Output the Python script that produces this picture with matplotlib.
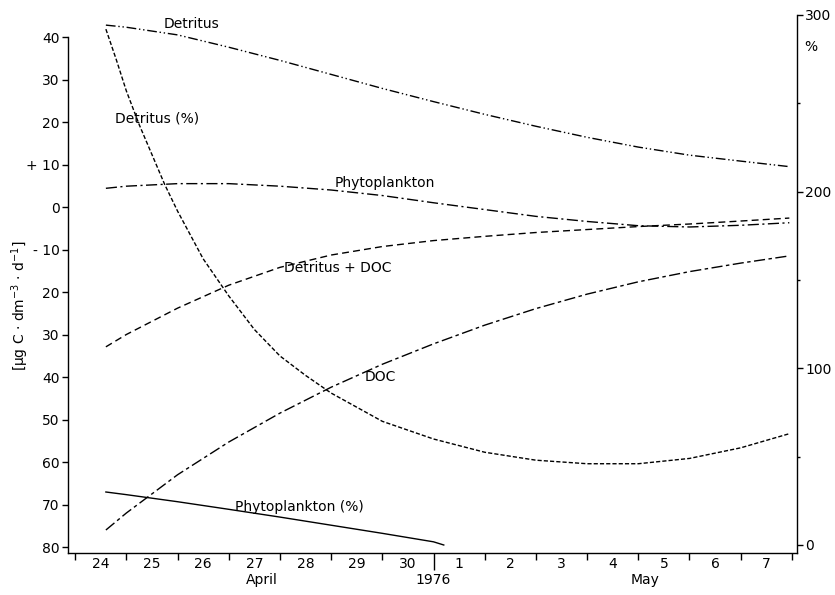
import matplotlib
matplotlib.use('Agg')
import matplotlib.pyplot as plt
from matplotlib.ticker import FixedLocator, NullFormatter

plt.rcParams['font.family'] = ['DejaVu Sans']

# days counted from 24 April 0h
days = [0.6, 1, 2, 3, 4, 5, 6, 7, 8, 9, 10, 11, 12, 13, 13.95]

# left axis, ug C dm-3 d-1 (positive = up)
detritus = [42.8, 42.3, 40.5, 37.6, 34.5, 31.2, 27.9, 24.8, 21.8, 19.0, 16.4, 14.1, 12.2, 10.8, 9.5]
phyto = [4.4, 4.9, 5.5, 5.5, 4.9, 4.0, 2.7, 1.0, -0.6, -2.2, -3.4, -4.4, -4.7, -4.3, -3.7]
det_doc = [-32.9, -30.0, -23.8, -18.4, -14.2, -11.3, -9.3, -7.9, -6.9, -6.0, -5.3, -4.6, -4.0, -3.3, -2.6]
doc = [-76.0, -72.0, -63.0, -55.3, -48.5, -42.4, -37.0, -32.2, -27.8, -23.9, -20.5, -17.6, -15.2, -13.2, -11.5]

# right axis, percent
det_pct_days = [0.6, 0.8, 1.0, 1.25, 1.5, 1.75, 2.0, 2.5, 3.0, 3.5, 4.0, 4.5, 5, 6, 7, 8, 9, 10, 11, 12, 13, 13.95]
det_pct = [292, 275, 257, 238, 221, 204, 189, 162, 141, 122, 107, 96, 86, 70, 60, 52.5, 48, 46, 46, 49, 55, 63]
phyto_pct_days = [0.6, 1, 2, 3, 4, 5, 6, 7, 7.2]
phyto_pct = [30, 28.5, 24.5, 20.2, 15.8, 11.2, 6.6, 1.8, 0]

left_ticks = [40, 30, 20, 10, 0, -10, -20, -30, -40, -50, -60, -70, -80]
left_labels = ['40', '30', '20', '+ 10', '0', '- 10', '20', '30', '40', '50', '60', '70', '80']
day_labels = ['24', '25', '26', '27', '28', '29', '30', '1', '2', '3', '4', '5', '6', '7']

fig = plt.figure(figsize=(8.35, 5.95), dpi=100)
ax = fig.add_axes([68 / 835, 42 / 595, (797 - 68) / 835, 538 / 595])
ax2 = ax.twinx()

ax.set_xlim(-0.14, 14.1)
ax.set_ylim(-81.41, 45.18)
ax2.set_ylim(-4.53, 300)

lw = 1.0
ax.plot(days, detritus, color='black', lw=lw, dashes=(7, 2, 1, 2, 1, 2))
ax.plot(days, phyto, color='black', lw=lw, dashes=(8, 2.5, 1.5, 2.5))
ax.plot(days, det_doc, color='black', lw=lw, dashes=(5, 3))
ax.plot(days, doc, color='black', lw=lw, dashes=(8, 2.5, 2.5, 2.5))
ax2.plot(det_pct_days, det_pct, color='black', lw=lw, dashes=(3, 1.5))
ax2.plot(phyto_pct_days, phyto_pct, color='black', lw=lw)

# spines
for a in (ax, ax2):
    a.spines['top'].set_visible(False)
ax.spines['right'].set_visible(False)
ax2.spines['left'].set_visible(False)
ax2.spines['bottom'].set_visible(False)
ax.spines['left'].set_bounds(-81.41, 40)
ax2.spines['right'].set_bounds(-4.53, 300)
for s in ('left', 'bottom'):
    ax.spines[s].set_linewidth(1.0)
ax2.spines['right'].set_linewidth(1.0)

# left axis ticks
ax.set_yticks(left_ticks)
ax.set_yticklabels(left_labels)
ax.tick_params(axis='y', direction='out', length=4, width=1, pad=2, labelsize=10)

# x axis: ticks on day boundaries, labels centred in the day
ax.xaxis.set_major_locator(FixedLocator(list(range(15))))
ax.xaxis.set_major_formatter(NullFormatter())
ax.xaxis.set_minor_locator(FixedLocator([i + 0.5 for i in range(14)]))
ax.set_xticklabels(day_labels, minor=True)
ax.tick_params(axis='x', which='major', direction='out', length=5, width=1)
ax.tick_params(axis='x', which='minor', length=0, pad=3, labelsize=10)
# longer tick at the month boundary
ax.xaxis.get_major_ticks()[7].tick1line.set_markersize(12)

# right axis
ax2.set_yticks([0, 100, 200, 300])
ax2.set_yticks([50, 150, 250], minor=True)
ax2.tick_params(axis='y', which='major', direction='out', length=4, width=1, pad=2, labelsize=10)
ax2.tick_params(axis='y', which='minor', direction='out', length=2, width=1)

xt = ax.get_xaxis_transform()
ax.text(3.65, -0.05, 'April', transform=xt, ha='center', va='center', fontsize=10)
ax.text(7.0, -0.05, '1976', transform=xt, ha='center', va='center', fontsize=10)
ax.text(11.13, -0.05, 'May', transform=xt, ha='center', va='center', fontsize=10)

ax.text(1.01, 0.94, '%', transform=ax.transAxes, ha='left', va='center', fontsize=10)

ax.set_ylabel('[µg C · dm$^{-3}$ · d$^{-1}$]', fontsize=10)
ax.yaxis.set_label_coords(-0.051, 0.46)

# curve labels
ax.text(2.27, 43.1, 'Detritus', ha='center', va='center', fontsize=10)
ax.text(1.6, 20.9, 'Detritus (%)', ha='center', va='center', fontsize=10)
ax.text(6.05, 5.6, 'Phytoplankton', ha='center', va='center', fontsize=10)
ax.text(5.12, -14.4, 'Detritus + DOC', ha='center', va='center', fontsize=10)
ax.text(5.96, -40.0, 'DOC', ha='center', va='center', fontsize=10)
ax.text(4.38, -70.6, 'Phytoplankton (%)', ha='center', va='center', fontsize=10)

fig.savefig('out.png', dpi=100)
